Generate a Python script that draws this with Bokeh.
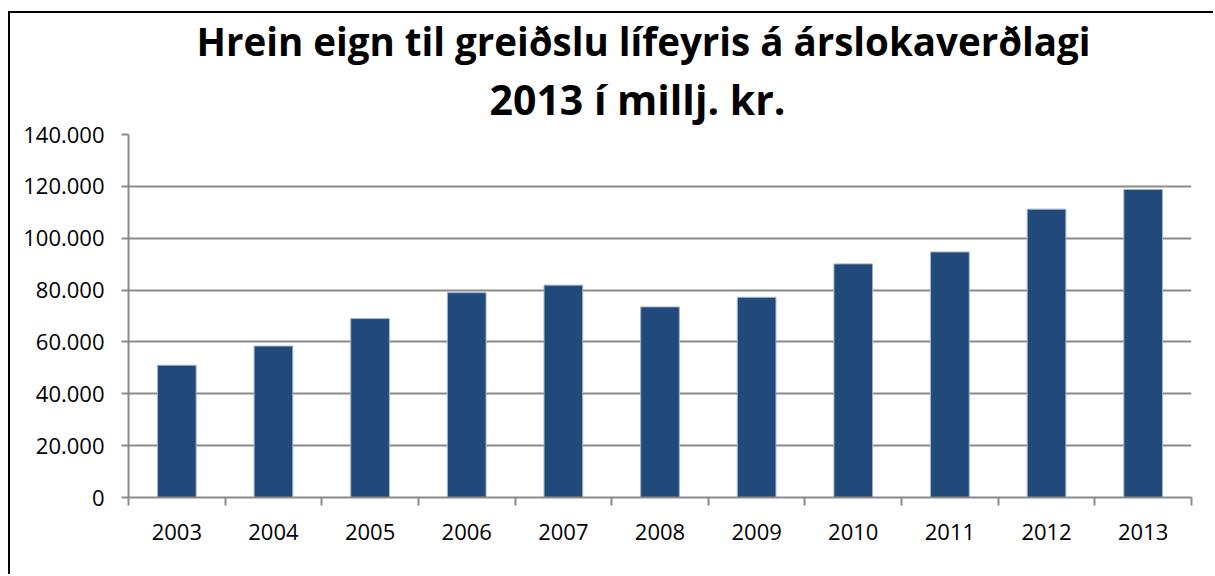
from bokeh.plotting import figure
from bokeh.models import Range1d, FixedTicker, Title
from bokeh.embed import file_html
from bokeh.resources import INLINE

years = [2003, 2004, 2005, 2006, 2007, 2008, 2009, 2010, 2011, 2012, 2013]
values = [51000, 58400, 69000, 79000, 81900, 73500, 77200, 90100, 94700, 111200, 118800]
y_ticks = [0, 20000, 40000, 60000, 80000, 100000, 120000, 140000]
title_line1 = "Hrein eign til greiðslu lífeyris á árslokaverðlagi"
title_line2 = "2013 í millj. kr."

FONT = "Open Sans"
GRID = "#8a8a8a"

p = figure(width=1205, height=563, output_backend="svg", toolbar_location=None,
           x_range=Range1d(years[0] - 0.5, years[-1] + 0.5),
           y_range=Range1d(y_ticks[0], y_ticks[-1]),
           min_border_left=118, min_border_right=24, min_border_top=121, min_border_bottom=79,
           title=None)
p.styles = {"margin-left": "8px", "margin-top": "11px",
            "border-left": "2px solid #000000", "border-top": "2px solid #000000"}
p.outline_line_color = None
p.background_fill_color = "white"
p.border_fill_color = "white"

p.vbar(x=years, top=values, width=0.4, fill_color="#214A7B", line_color="#9FB3CB", line_width=1)

# titles: first added sits closest to the plot
t2 = Title(text=title_line2, text_font=FONT, text_font_size="41px", text_font_style="bold",
           align="left", offset=361, text_color="#000000", standoff=15)
t1 = Title(text=title_line1, text_font=FONT, text_font_size="38.5px", text_font_style="bold",
           align="left", offset=68, text_color="#000000", standoff=-11)
p.add_layout(t2, "above")
p.add_layout(t1, "above")

# x axis: labels at the years, minor ticks at category boundaries
boundaries = [y - 0.5 for y in years] + [years[-1] + 0.5]
xa = p.xaxis[0]
xa.ticker = FixedTicker(ticks=years, minor_ticks=boundaries)
xa.major_tick_out = 0
xa.major_tick_in = 0
xa.minor_tick_out = 8
xa.minor_tick_in = 0
xa.minor_tick_line_color = GRID
xa.minor_tick_line_width = 2
xa.axis_line_color = GRID
xa.axis_line_width = 2
xa.major_label_text_font = FONT
xa.major_label_text_font_size = "22px"
xa.major_label_text_color = "#000000"
xa.major_label_standoff = 18

ya = p.yaxis[0]
ya.ticker = FixedTicker(ticks=y_ticks, minor_ticks=[])
ya.major_label_overrides = {v: f"{v:,}".replace(",", ".") for v in y_ticks}
ya.major_tick_out = 7
ya.major_tick_in = 0
ya.major_tick_line_color = GRID
ya.major_tick_line_width = 2
ya.axis_line_color = GRID
ya.axis_line_width = 2
ya.major_label_text_font = FONT
ya.major_label_text_font_size = "22px"
ya.major_label_text_color = "#000000"
ya.major_label_standoff = 17

p.xgrid.grid_line_color = None
p.ygrid.ticker = FixedTicker(ticks=y_ticks)
p.ygrid.grid_line_color = GRID
p.ygrid.grid_line_width = 2

open("out.html", "w").write(file_html(p, INLINE))
